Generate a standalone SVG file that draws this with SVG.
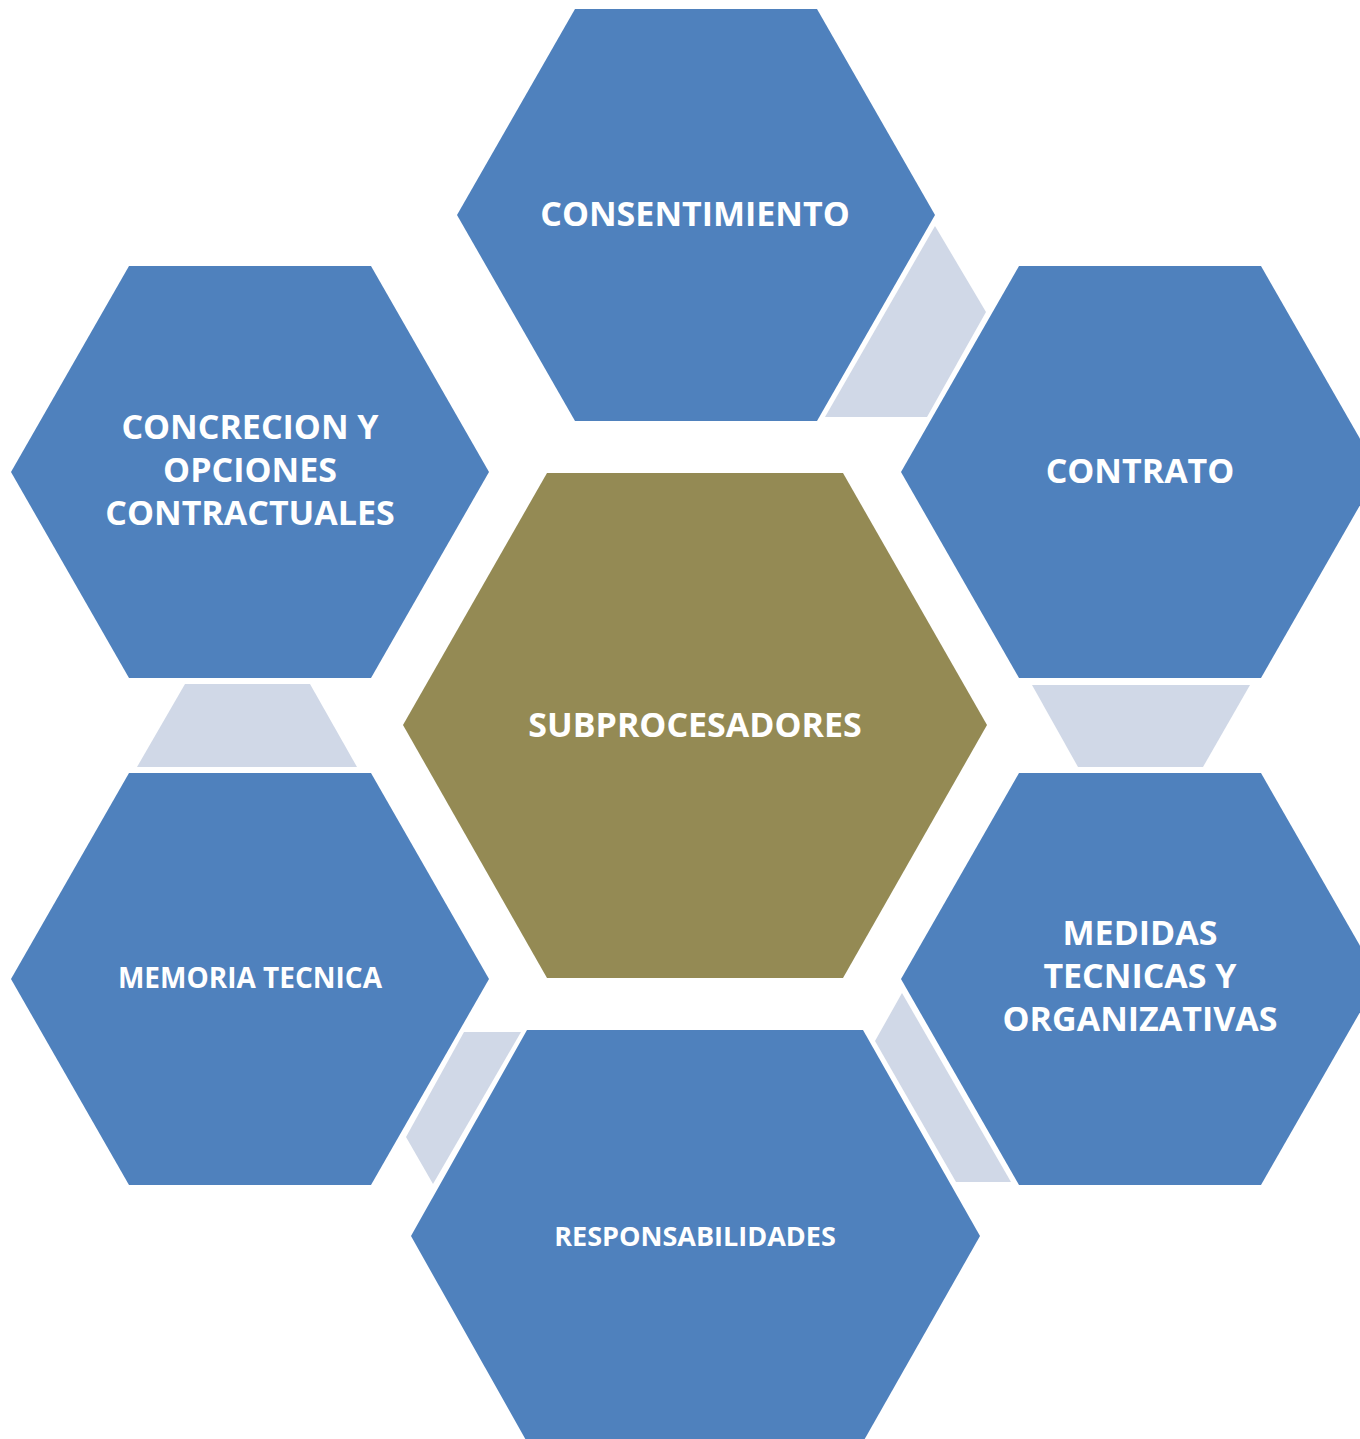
<svg xmlns="http://www.w3.org/2000/svg" width="1360" height="1439" viewBox="0 0 1360 1439">
  <style>
    .hex { fill: #4F81BD; }
    .center { fill: #948A54; }
    .conn { fill: #D0D8E7; }
    .lbl { font-family: "Open Sans", "Liberation Sans", sans-serif; font-weight: bold; fill: #FFFFFF; text-anchor: middle; font-size: 34px; }
    .sm { font-size: 27px; }
    .sm2 { font-size: 28px; }
  </style>
  <rect width="1360" height="1439" fill="#FFFFFF"/>
  <g id="connectors">
    <polygon class="conn" points="935,226 986,312 927,417 825,417"/>
    <polygon class="conn" points="1032,685 1250,685 1203,767 1078,767"/>
    <polygon class="conn" points="902,993 1011,1182 956,1182 875,1041"/>
    <polygon class="conn" points="464,1032 521,1032 433,1184 406,1137"/>
    <polygon class="conn" points="185,684 310,684 357,767 137,767"/>
  </g>
  <g id="node-center">
    <polygon class="center" points="403,725 547,473 843,473 987,725 843,978 547,978"/>
    <text class="lbl" x="695" y="737">SUBPROCESADORES</text>
  </g>
  <g id="node-consentimiento">
    <polygon class="hex" points="457,215 575,9 817,9 935,215 817,421 575,421"/>
    <text class="lbl" x="695" y="226">CONSENTIMIENTO</text>
  </g>
  <g id="node-contrato">
    <polygon class="hex" points="901,472 1019,266 1261,266 1379,472 1261,678 1019,678"/>
    <text class="lbl" x="1140" y="483">CONTRATO</text>
  </g>
  <g id="node-medidas">
    <polygon class="hex" points="901,979 1019,773 1261,773 1379,979 1261,1185 1019,1185"/>
    <text class="lbl" x="1140" y="945">MEDIDAS</text>
    <text class="lbl" x="1140" y="988">TECNICAS Y</text>
    <text class="lbl" x="1140" y="1031">ORGANIZATIVAS</text>
  </g>
  <g id="node-responsabilidades">
    <polygon class="hex" points="411,1236 527,1030 863,1030 980,1236 863,1442 527,1442"/>
    <text class="lbl sm" x="695" y="1246">RESPONSABILIDADES</text>
  </g>
  <g id="node-memoria">
    <polygon class="hex" points="11,979 129,773 371,773 489,979 371,1185 129,1185"/>
    <text class="lbl sm2" x="250" y="988">MEMORIA TECNICA</text>
  </g>
  <g id="node-concrecion">
    <polygon class="hex" points="11,472 129,266 371,266 489,472 371,678 129,678"/>
    <text class="lbl" x="250" y="439">CONCRECION Y</text>
    <text class="lbl" x="250" y="482">OPCIONES</text>
    <text class="lbl" x="250" y="525">CONTRACTUALES</text>
  </g>
</svg>
